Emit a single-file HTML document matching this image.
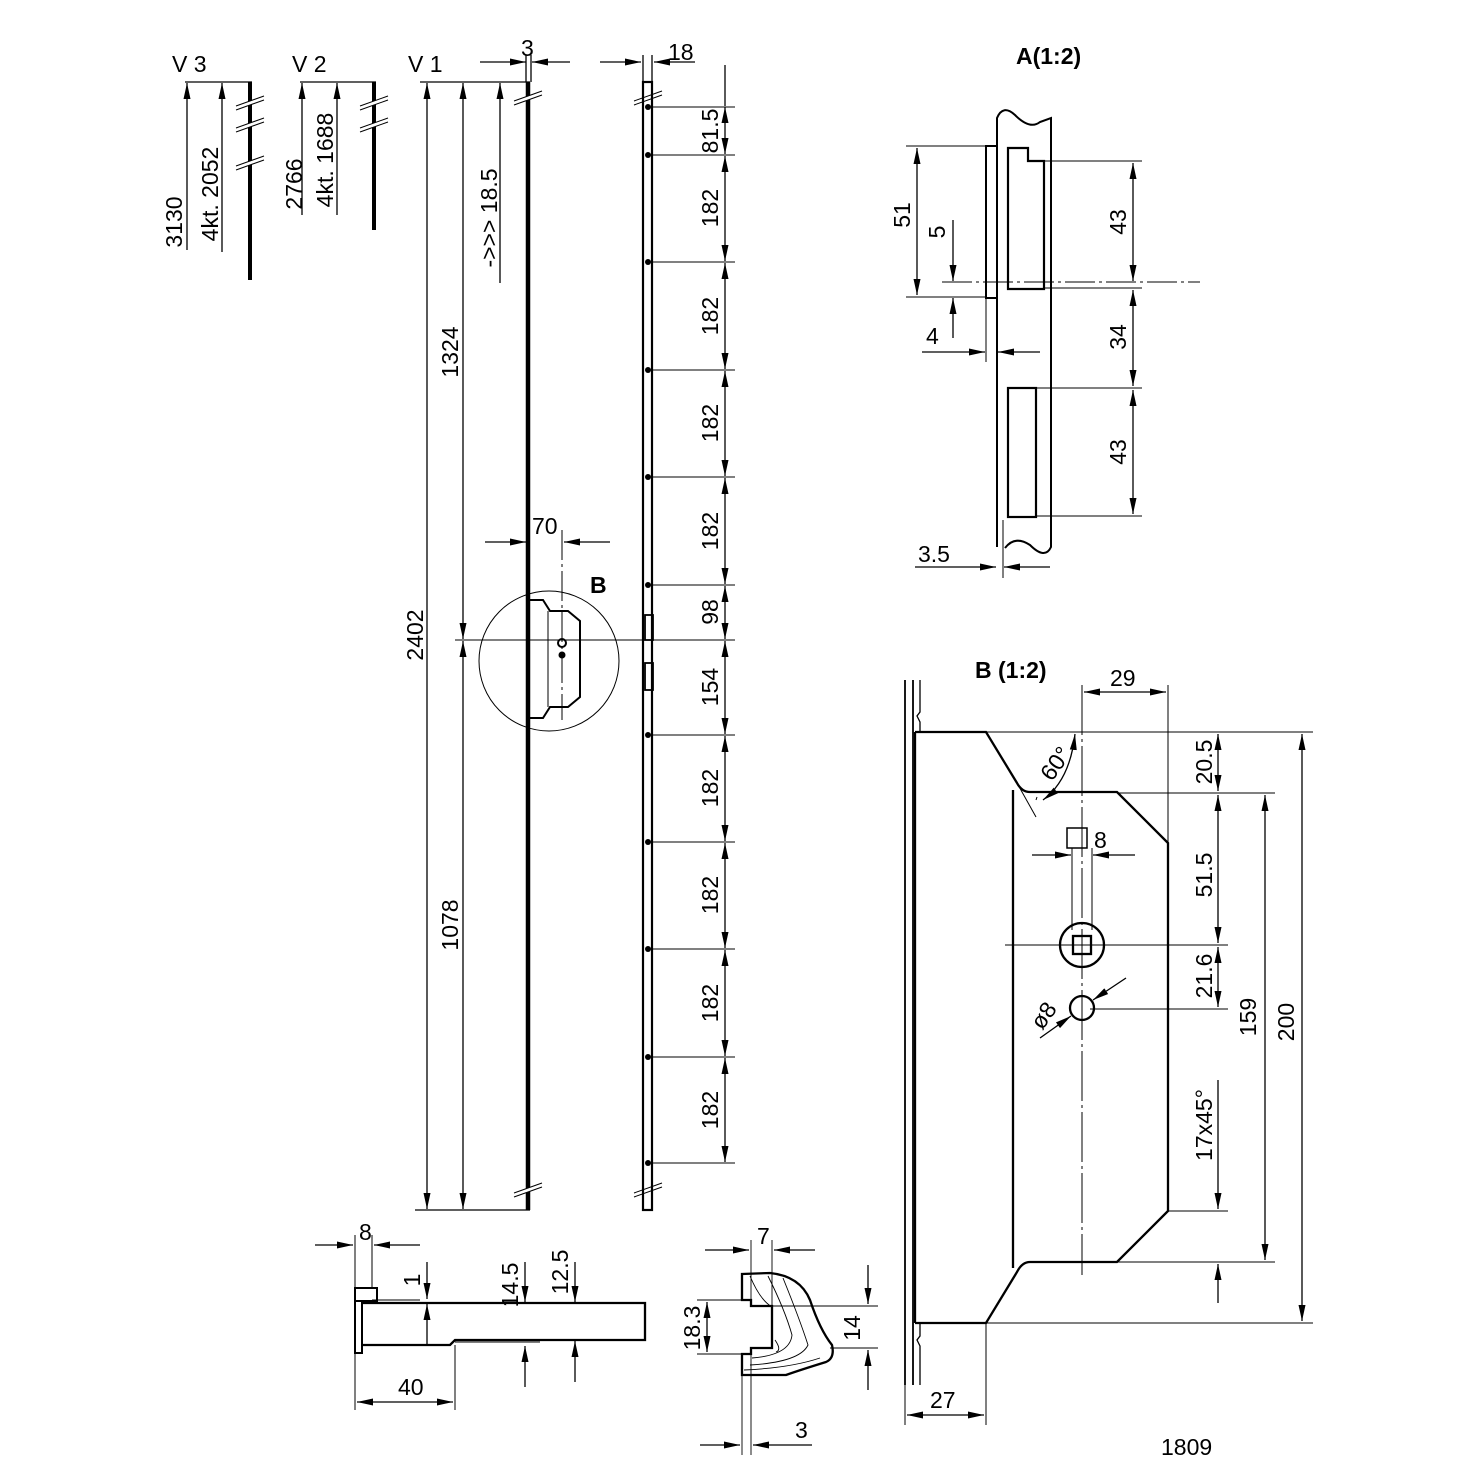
<!DOCTYPE html>
<html><head><meta charset="utf-8"><style>
html,body{margin:0;padding:0;background:#fff}
svg{display:block}
text{font-family:"Liberation Sans Narrow","Liberation Sans",sans-serif;font-size:23px;fill:#000}
.k{stroke:#000;fill:none}
</style></head><body>
<svg width="1476" height="1476" viewBox="0 0 1476 1476" xmlns="http://www.w3.org/2000/svg">
<defs>
<marker id="a" markerUnits="userSpaceOnUse" markerWidth="18" markerHeight="8" refX="16" refY="4" orient="auto-start-reverse">
<path d="M0,0.5 L16,4 L0,7.5 Z" fill="#000"/></marker>
</defs>
<g stroke="#000" fill="none" stroke-width="1.3">
<!-- V3 -->
<line x1="185" y1="82" x2="252" y2="82"/>
<line x1="187" y1="250" x2="187" y2="83" marker-end="url(#a)"/>
<line x1="222" y1="252" x2="222" y2="83" marker-end="url(#a)"/>
<line x1="250" y1="82" x2="250" y2="280" stroke-width="4"/>
<!-- V2 -->
<line x1="300" y1="82" x2="376" y2="82"/>
<line x1="302" y1="215" x2="302" y2="83" marker-end="url(#a)"/>
<line x1="337" y1="215" x2="337" y2="83" marker-end="url(#a)"/>
<line x1="374" y1="82" x2="374" y2="230" stroke-width="4"/>
<!-- V1 -->
<line x1="420" y1="82" x2="530" y2="82"/>
<line x1="427" y1="83" x2="427" y2="1209" marker-start="url(#a)" marker-end="url(#a)"/>
<line x1="463" y1="83" x2="463" y2="639" marker-start="url(#a)" marker-end="url(#a)"/>
<line x1="463" y1="641" x2="463" y2="1209" marker-start="url(#a)" marker-end="url(#a)"/>
<line x1="500" y1="283" x2="500" y2="83" marker-end="url(#a)"/>
<line x1="415" y1="1210" x2="530" y2="1210"/>
<line x1="528" y1="82" x2="528" y2="1210" stroke-width="4.5"/>
<line x1="480" y1="62" x2="526" y2="62" marker-end="url(#a)"/>
<line x1="570" y1="62" x2="532" y2="62" marker-end="url(#a)"/>
<line x1="526" y1="55" x2="526" y2="82"/><line x1="531" y1="55" x2="531" y2="82"/>
<!-- break marks -->
<g stroke="#fff" stroke-width="4">
<line x1="236" y1="108" x2="264" y2="98"/><line x1="236" y1="130" x2="264" y2="120"/><line x1="236" y1="168" x2="264" y2="158"/>
<line x1="360" y1="108" x2="388" y2="98"/><line x1="360" y1="130" x2="388" y2="120"/>
<line x1="514" y1="103" x2="542" y2="93"/><line x1="514" y1="1195" x2="542" y2="1185"/>
<line x1="634" y1="103" x2="662" y2="93"/><line x1="634" y1="1195" x2="662" y2="1185"/>
</g>
<g stroke-width="1">
<line x1="236" y1="106" x2="264" y2="96"/><line x1="236" y1="110" x2="264" y2="100"/>
<line x1="236" y1="128" x2="264" y2="118"/><line x1="236" y1="132" x2="264" y2="122"/>
<line x1="236" y1="166" x2="264" y2="156"/><line x1="236" y1="170" x2="264" y2="160"/>
<line x1="360" y1="106" x2="388" y2="96"/><line x1="360" y1="110" x2="388" y2="100"/>
<line x1="360" y1="128" x2="388" y2="118"/><line x1="360" y1="132" x2="388" y2="122"/>
<line x1="514" y1="101" x2="542" y2="91"/><line x1="514" y1="105" x2="542" y2="95"/>
<line x1="514" y1="1193" x2="542" y2="1183"/><line x1="514" y1="1197" x2="542" y2="1187"/>
<line x1="634" y1="101" x2="662" y2="91"/><line x1="634" y1="105" x2="662" y2="95"/>
<line x1="634" y1="1193" x2="662" y2="1183"/><line x1="634" y1="1197" x2="662" y2="1187"/>
</g>
<!-- rail -->
<rect x="643" y="82" width="9" height="1128" stroke-width="2.2"/>
<rect x="645" y="615" width="8" height="25" stroke-width="1.8"/>
<rect x="645" y="663" width="8" height="27" stroke-width="1.8"/>
<line x1="600" y1="62" x2="641" y2="62" marker-end="url(#a)"/>
<line x1="695" y1="62" x2="654" y2="62" marker-end="url(#a)"/>
<line x1="643" y1="55" x2="643" y2="82"/><line x1="652" y1="55" x2="652" y2="82"/>
<line x1="725" y1="65" x2="725" y2="106"/>
<line x1="725" y1="107" x2="725" y2="154" marker-start="url(#a)" marker-end="url(#a)"/>
<line x1="725" y1="156" x2="725" y2="261" marker-start="url(#a)" marker-end="url(#a)"/>
<line x1="725" y1="263" x2="725" y2="369" marker-start="url(#a)" marker-end="url(#a)"/>
<line x1="725" y1="371" x2="725" y2="476" marker-start="url(#a)" marker-end="url(#a)"/>
<line x1="725" y1="478" x2="725" y2="584" marker-start="url(#a)" marker-end="url(#a)"/>
<line x1="725" y1="586" x2="725" y2="639" marker-start="url(#a)" marker-end="url(#a)"/>
<line x1="725" y1="641" x2="725" y2="734" marker-start="url(#a)" marker-end="url(#a)"/>
<line x1="725" y1="736" x2="725" y2="841" marker-start="url(#a)" marker-end="url(#a)"/>
<line x1="725" y1="843" x2="725" y2="948" marker-start="url(#a)" marker-end="url(#a)"/>
<line x1="725" y1="950" x2="725" y2="1056" marker-start="url(#a)" marker-end="url(#a)"/>
<line x1="725" y1="1058" x2="725" y2="1162" marker-start="url(#a)" marker-end="url(#a)"/>
<g stroke-width="1">
<line x1="648" y1="107" x2="735" y2="107"/><line x1="648" y1="155" x2="735" y2="155"/>
<line x1="648" y1="262" x2="735" y2="262"/><line x1="648" y1="370" x2="735" y2="370"/>
<line x1="648" y1="477" x2="735" y2="477"/><line x1="648" y1="585" x2="735" y2="585"/>
<line x1="455" y1="640" x2="735" y2="640"/>
<line x1="648" y1="735" x2="735" y2="735"/><line x1="648" y1="842" x2="735" y2="842"/>
<line x1="648" y1="949" x2="735" y2="949"/><line x1="648" y1="1057" x2="735" y2="1057"/>
<line x1="648" y1="1163" x2="735" y2="1163"/>
</g>
<!-- circle B -->
<circle cx="549" cy="661" r="70" stroke-width="1"/>
<path d="M530,600 L543,600 L550,611 L568,611 L580,621 L580,697 L568,707 L550,707 L543,718 L530,718" stroke-width="2"/>
<line x1="548" y1="611" x2="548" y2="707" stroke-width="1"/>
<line x1="562" y1="530" x2="562" y2="720" stroke-width="1" stroke-dasharray="30,4,3,4"/>
<circle cx="562" cy="643" r="4" stroke-width="2"/>
<line x1="485" y1="542" x2="526" y2="542" marker-end="url(#a)"/>
<line x1="610" y1="542" x2="564" y2="542" marker-end="url(#a)"/>
<!-- Detail A -->
<path d="M997,547 L997,118 Q1003,104 1015,115 Q1030,130 1040,122 L1051,118 L1051,547 Q1045,560 1030,545 Q1015,535 1005,548" stroke-width="2"/>
<rect x="986" y="146" width="11" height="152" stroke-width="2"/>
<path d="M1008,148 L1028,148 L1028,161 L1044,161 L1044,289 L1008,289 Z" stroke-width="2.2"/>
<rect x="1008" y="388" width="28" height="129" stroke-width="2.2"/>
<line x1="942" y1="282" x2="1200" y2="282" stroke-width="1" stroke-dasharray="30,4,3,4"/>
<g stroke-width="1">
<line x1="906" y1="146" x2="986" y2="146"/><line x1="906" y1="297" x2="986" y2="297"/>
<line x1="1044" y1="161" x2="1142" y2="161"/><line x1="1044" y1="288" x2="1142" y2="288"/>
<line x1="1036" y1="388" x2="1142" y2="388"/><line x1="1036" y1="516" x2="1142" y2="516"/>
<line x1="986" y1="298" x2="986" y2="362"/><line x1="1003" y1="520" x2="1003" y2="578"/>
</g>
<line x1="917" y1="148" x2="917" y2="295" marker-start="url(#a)" marker-end="url(#a)"/>
<line x1="953" y1="220" x2="953" y2="281" marker-end="url(#a)"/>
<line x1="953" y1="338" x2="953" y2="298" marker-end="url(#a)"/>
<line x1="1133" y1="163" x2="1133" y2="281" marker-start="url(#a)" marker-end="url(#a)"/>
<line x1="1133" y1="290" x2="1133" y2="386" marker-start="url(#a)" marker-end="url(#a)"/>
<line x1="1133" y1="390" x2="1133" y2="514" marker-start="url(#a)" marker-end="url(#a)"/>
<line x1="922" y1="352" x2="985" y2="352" marker-end="url(#a)"/>
<line x1="1040" y1="352" x2="998" y2="352" marker-end="url(#a)"/>
<line x1="915" y1="567" x2="996" y2="567" marker-end="url(#a)"/>
<line x1="1050" y1="567" x2="1004" y2="567" marker-end="url(#a)"/>
<!-- Detail B -->
<line x1="905" y1="680" x2="905" y2="1385" stroke-width="1.8"/>
<line x1="913" y1="680" x2="913" y2="1385" stroke-width="1.8"/>
<path d="M920,680 L920,712 L917,716 L920,722 L920,732" stroke-width="1.3"/>
<path d="M920,1323 L920,1336 L917,1340 L920,1346 L920,1385" stroke-width="1.3"/>
<path d="M915,732 L986,732 L1017,783 Q1022,792 1030,792 L1117,792 L1168,843 L1168,1211 L1117,1262 L1030,1262 Q1022,1262 1017,1272 L986,1323 L915,1323" stroke-width="2.3"/>
<line x1="915" y1="732" x2="915" y2="1323" stroke-width="2.3"/>
<line x1="1013" y1="790" x2="1013" y2="1268" stroke-width="2.3"/>
<line x1="1082" y1="685" x2="1082" y2="1275" stroke-width="1" stroke-dasharray="50,4,3,4"/>
<g stroke-width="1">
<line x1="986" y1="732" x2="1313" y2="732"/>
<line x1="1117" y1="793" x2="1275" y2="793"/>
<line x1="1168" y1="685" x2="1168" y2="843"/>
<line x1="1005" y1="945" x2="1228" y2="945"/>
<line x1="1090" y1="1009" x2="1228" y2="1009"/>
<line x1="1168" y1="1211" x2="1228" y2="1211"/>
<line x1="1117" y1="1262" x2="1275" y2="1262"/>
<line x1="986" y1="1323" x2="1313" y2="1323"/>
<line x1="1072" y1="848" x2="1072" y2="930"/><line x1="1092" y1="848" x2="1092" y2="930"/>
<line x1="905" y1="1385" x2="905" y2="1425"/><line x1="986" y1="1323" x2="986" y2="1425"/>
<line x1="1037" y1="797" x2="1036" y2="800"/>
<line x1="1017" y1="783" x2="1036" y2="817"/>
</g>
<line x1="1084" y1="692" x2="1166" y2="692" marker-start="url(#a)" marker-end="url(#a)"/>
<line x1="1218" y1="734" x2="1218" y2="791" marker-start="url(#a)" marker-end="url(#a)"/>
<line x1="1218" y1="795" x2="1218" y2="943" marker-start="url(#a)" marker-end="url(#a)"/>
<line x1="1218" y1="947" x2="1218" y2="1007" marker-start="url(#a)" marker-end="url(#a)"/>
<line x1="1218" y1="1080" x2="1218" y2="1209" marker-end="url(#a)"/>
<line x1="1218" y1="1303" x2="1218" y2="1264" marker-end="url(#a)"/>
<line x1="1265" y1="795" x2="1265" y2="1260" marker-start="url(#a)" marker-end="url(#a)"/>
<line x1="1302" y1="734" x2="1302" y2="1321" marker-start="url(#a)" marker-end="url(#a)"/>
<path d="M1043,800 Q1070,780 1075,734" marker-start="url(#a)" marker-end="url(#a)"/>
<rect x="1067" y="828" width="20" height="20" stroke-width="1.5"/>
<line x1="1032" y1="855" x2="1071" y2="855" marker-end="url(#a)"/>
<line x1="1135" y1="855" x2="1093" y2="855" marker-end="url(#a)"/>
<circle cx="1082" cy="945" r="22" stroke-width="2.3"/>
<rect x="1073" y="936" width="18" height="18" stroke-width="2.3"/>
<circle cx="1082" cy="1008" r="12" stroke-width="2.3"/>
<line x1="1040" y1="1038" x2="1071" y2="1016" marker-end="url(#a)"/>
<line x1="1126" y1="978" x2="1093" y2="1000" marker-end="url(#a)"/>
<line x1="907" y1="1415" x2="984" y2="1415" marker-start="url(#a)" marker-end="url(#a)"/>
<!-- bottom left part -->
<rect x="355" y="1288" width="22" height="13" stroke-width="2"/>
<rect x="355" y="1301" width="7" height="52" stroke-width="2"/>
<path d="M362,1303 L645,1303 L645,1340 L455,1340 L450,1345 L362,1345" stroke-width="2.3"/>
<g stroke-width="1">
<line x1="355" y1="1235" x2="355" y2="1410"/><line x1="372" y1="1235" x2="372" y2="1288"/>
<line x1="372" y1="1300" x2="420" y2="1300"/>
<line x1="455" y1="1342" x2="540" y2="1342"/>
<line x1="455" y1="1345" x2="455" y2="1410"/>
</g>
<line x1="315" y1="1245" x2="353" y2="1245" marker-end="url(#a)"/>
<line x1="420" y1="1245" x2="374" y2="1245" marker-end="url(#a)"/>
<line x1="427" y1="1262" x2="427" y2="1299" marker-end="url(#a)"/>
<line x1="427" y1="1345" x2="427" y2="1304" marker-end="url(#a)"/>
<line x1="525" y1="1262" x2="525" y2="1302" marker-end="url(#a)"/>
<line x1="525" y1="1387" x2="525" y2="1346" marker-end="url(#a)"/>
<line x1="575" y1="1262" x2="575" y2="1302" marker-end="url(#a)"/>
<line x1="575" y1="1382" x2="575" y2="1341" marker-end="url(#a)"/>
<line x1="357" y1="1402" x2="453" y2="1402" marker-start="url(#a)" marker-end="url(#a)"/>
<!-- right small part -->
<path d="M742,1274 L770,1273 Q800,1276 810,1300 Q820,1330 832,1345 Q835,1358 826,1362 Q800,1370 786,1375 L742,1375 L742,1354 L751,1354 L751,1348 L772,1348 L772,1306 L751,1306 L751,1300 L742,1300 Z" stroke-width="2.3"/>
<g stroke-width="0.9">
<path d="M750,1276 Q760,1300 772,1307"/><path d="M768,1276 Q785,1310 792,1335 Q790,1355 752,1358"/>
<path d="M783,1278 Q800,1320 808,1345 Q800,1362 750,1365"/>
<path d="M775,1340 Q782,1350 776,1352"/><path d="M744,1370 Q790,1368 820,1358"/>
<line x1="751" y1="1240" x2="751" y2="1300"/><line x1="772" y1="1240" x2="772" y2="1306"/>
<line x1="742" y1="1375" x2="742" y2="1455"/><line x1="751" y1="1354" x2="751" y2="1455"/>
<line x1="697" y1="1300" x2="742" y2="1300"/><line x1="697" y1="1354" x2="742" y2="1354"/>
<line x1="772" y1="1306" x2="878" y2="1306"/><line x1="830" y1="1348" x2="878" y2="1348"/>
</g>
<line x1="705" y1="1250" x2="749" y2="1250" marker-end="url(#a)"/>
<line x1="815" y1="1250" x2="774" y2="1250" marker-end="url(#a)"/>
<line x1="707" y1="1302" x2="707" y2="1352" marker-start="url(#a)" marker-end="url(#a)"/>
<line x1="868" y1="1265" x2="868" y2="1304" marker-end="url(#a)"/>
<line x1="868" y1="1390" x2="868" y2="1350" marker-end="url(#a)"/>
<line x1="700" y1="1445" x2="740" y2="1445" marker-end="url(#a)"/>
<line x1="812" y1="1445" x2="753" y2="1445" marker-end="url(#a)"/>
</g>
<g fill="#000" stroke="none">
<circle cx="648" cy="107" r="3"/><circle cx="648" cy="155" r="3"/><circle cx="648" cy="262" r="3"/>
<circle cx="648" cy="370" r="3"/><circle cx="648" cy="477" r="3"/><circle cx="648" cy="585" r="3"/>
<circle cx="648" cy="735" r="3"/><circle cx="648" cy="842" r="3"/><circle cx="648" cy="949" r="3"/>
<circle cx="648" cy="1057" r="3"/><circle cx="648" cy="1163" r="3"/>
<circle cx="562" cy="655" r="3.5"/>
</g>
<!-- texts -->
<text x="172" y="72">V 3</text><text x="292" y="72">V 2</text><text x="408" y="72">V 1</text>
<text x="521" y="56">3</text><text x="668" y="60">18</text>
<text x="532" y="534">70</text>
<text x="590" y="593" style="font-weight:bold">B</text>
<text x="1016" y="64" style="font-weight:bold">A(1:2)</text>
<text x="975" y="678" style="font-weight:bold">B (1:2)</text>
<text x="1110" y="686">29</text>
<text x="1094" y="848">8</text>
<text x="1161" y="1455">1809</text>
<text x="918" y="562">3.5</text><text x="926" y="344">4</text>
<text x="930" y="1408">27</text>
<text x="359" y="1240">8</text><text x="398" y="1395">40</text>
<text x="757" y="1244">7</text><text x="795" y="1438">3</text>
<g text-anchor="middle">
<text transform="translate(182,222) rotate(-90)">3130</text>
<text transform="translate(218,194) rotate(-90)">4kt. 2052</text>
<text transform="translate(302,184) rotate(-90)">2766</text>
<text transform="translate(333,160) rotate(-90)">4kt. 1688</text>
<text transform="translate(497,218) rotate(-90)">-&gt;&gt;&gt; 18.5</text>
<text transform="translate(423,635) rotate(-90)">2402</text>
<text transform="translate(458,352) rotate(-90)">1324</text>
<text transform="translate(458,925) rotate(-90)">1078</text>
<text transform="translate(718,131) rotate(-90)">81.5</text>
<text transform="translate(718,208) rotate(-90)">182</text>
<text transform="translate(718,316) rotate(-90)">182</text>
<text transform="translate(718,423) rotate(-90)">182</text>
<text transform="translate(718,531) rotate(-90)">182</text>
<text transform="translate(718,612) rotate(-90)">98</text>
<text transform="translate(718,687) rotate(-90)">154</text>
<text transform="translate(718,788) rotate(-90)">182</text>
<text transform="translate(718,895) rotate(-90)">182</text>
<text transform="translate(718,1003) rotate(-90)">182</text>
<text transform="translate(718,1110) rotate(-90)">182</text>
<text transform="translate(910,215) rotate(-90)">51</text>
<text transform="translate(945,232) rotate(-90)">5</text>
<text transform="translate(1126,222) rotate(-90)">43</text>
<text transform="translate(1126,337) rotate(-90)">34</text>
<text transform="translate(1126,452) rotate(-90)">43</text>
<text transform="translate(1212,762) rotate(-90)">20.5</text>
<text transform="translate(1212,875) rotate(-90)">51.5</text>
<text transform="translate(1212,976) rotate(-90)">21.6</text>
<text transform="translate(1212,1125) rotate(-90)">17x45°</text>
<text transform="translate(1256,1017) rotate(-90)">159</text>
<text transform="translate(1294,1022) rotate(-90)">200</text>
<text transform="translate(1062,768) rotate(-55)">60°</text>
<text transform="translate(1050,1020) rotate(-55)">ø8</text>
<text transform="translate(420,1280) rotate(-90)">1</text>
<text transform="translate(518,1285) rotate(-90)">14.5</text>
<text transform="translate(568,1272) rotate(-90)">12.5</text>
<text transform="translate(700,1328) rotate(-90)">18.3</text>
<text transform="translate(860,1328) rotate(-90)">14</text>
</g>
</svg>
</body></html>
